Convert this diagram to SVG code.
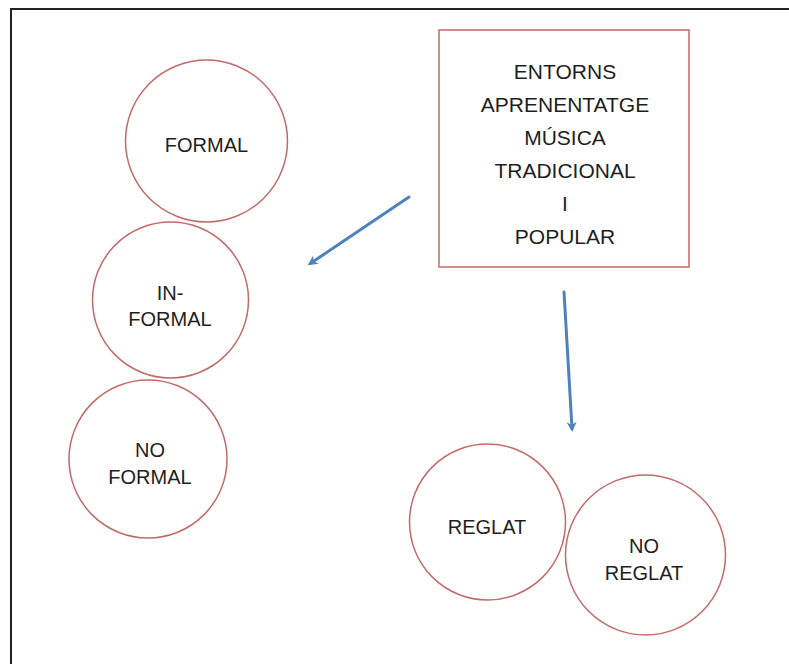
<svg xmlns="http://www.w3.org/2000/svg" width="789" height="664" viewBox="0 0 789 664">
  <defs>
    <style>
      .node { fill: #ffffff; stroke: #c26a6a; stroke-width: 1.5; }
      .lbl { font-family: "Liberation Sans", Arial, sans-serif; font-size: 20px; fill: #1e1e1e; text-anchor: middle; }
      .big { font-size: 21px; }
      .conn { stroke: #4f81bd; stroke-width: 3; fill: none; stroke-linecap: round; }
    </style>
    <marker id="arrow" markerWidth="10" markerHeight="10" refX="6" refY="5" orient="auto" markerUnits="userSpaceOnUse" viewBox="0 0 10 10">
      <path d="M0,0 L10,5 L0,10 L3,5 Z" fill="#4f81bd"/>
    </marker>
  </defs>

  <rect width="789" height="664" fill="#ffffff"/>
  <!-- page frame -->
  <path d="M11,664 L11,9 L789,9" fill="none" stroke="#222222" stroke-width="2"/>

  <g id="entorns">
    <rect class="node" x="439" y="30" width="250" height="237"/>
    <text class="lbl big" x="565" y="79">ENTORNS</text>
    <text class="lbl big" x="565" y="112">APRENENTATGE</text>
    <text class="lbl big" x="565" y="145">MÚSICA</text>
    <text class="lbl big" x="565" y="178">TRADICIONAL</text>
    <text class="lbl big" x="565" y="211">I</text>
    <text class="lbl big" x="565" y="244">POPULAR</text>
  </g>

  <g id="formal">
    <circle class="node" cx="206.5" cy="141" r="81"/>
    <text class="lbl" x="206.5" y="152">FORMAL</text>
  </g>

  <g id="informal">
    <circle class="node" cx="170.5" cy="300" r="78"/>
    <text class="lbl" x="170" y="300">IN-</text>
    <text class="lbl" x="170" y="326">FORMAL</text>
  </g>

  <g id="noformal">
    <circle class="node" cx="148" cy="459" r="79"/>
    <text class="lbl" x="150" y="457">NO</text>
    <text class="lbl" x="150" y="484">FORMAL</text>
  </g>

  <g id="reglat">
    <circle class="node" cx="487.5" cy="522" r="78"/>
    <text class="lbl" x="487" y="534">REGLAT</text>
  </g>

  <g id="noreglat">
    <circle class="node" cx="645.5" cy="555" r="80"/>
    <text class="lbl" x="644" y="553">NO</text>
    <text class="lbl" x="644" y="580">REGLAT</text>
  </g>

  <g id="connectors">
    <line class="conn" x1="409" y1="197" x2="311" y2="263" marker-end="url(#arrow)"/>
    <line class="conn" x1="564" y1="292" x2="572" y2="428" marker-end="url(#arrow)"/>
  </g>
</svg>
